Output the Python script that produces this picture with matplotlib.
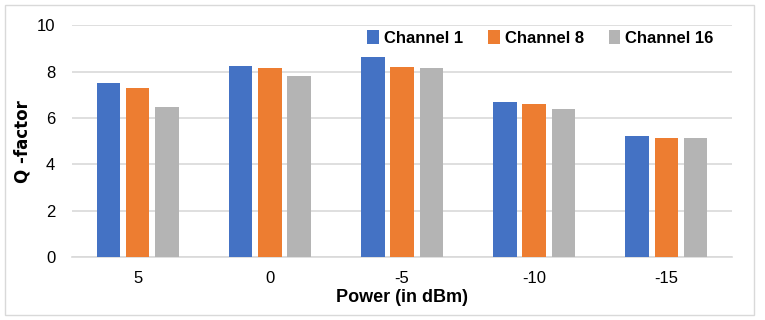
import numpy as np
import matplotlib
matplotlib.use("Agg")
import matplotlib.pyplot as plt
from matplotlib.patches import Rectangle

# data
powers = ['5', '0', '-5', '-10', '-15']
channel_1 = [7.50, 8.24, 8.63, 6.68, 5.24]
channel_8 = [7.28, 8.14, 8.22, 6.59, 5.14]
channel_16 = [6.49, 7.81, 8.16, 6.37, 5.12]

series = [('Channel 1', channel_1, '#4472C4'),
          ('Channel 8', channel_8, '#ED7D31'),
          ('Channel 16', channel_16, '#B4B4B4')]

plt.rcParams['font.family'] = ['Liberation Sans Narrow', 'Liberation Sans', 'DejaVu Sans']

fig = plt.figure(figsize=(7.65, 3.2), dpi=100)
ax = fig.add_axes([0.094, 0.197, 0.863, 0.724])

x = np.arange(len(powers))
width = 0.175
step = 0.22
for i, (name, vals, col) in enumerate(series):
    ax.bar(x + (i - 1) * step, vals, width, color=col, label=name, zorder=3)

ax.set_xlim(-0.5, 4.5)
ax.set_ylim(0, 10)
ax.set_yticks([0, 2, 4, 6, 8, 10])
ax.set_xticks(x)
ax.set_xticklabels(powers)
ax.yaxis.grid(True, color='#d9d9d9', linewidth=1.2, zorder=0)
for s in ['top', 'right', 'left']:
    ax.spines[s].set_visible(False)
ax.spines['bottom'].set_color('#d9d9d9')
ax.spines['bottom'].set_linewidth(1.2)
ax.tick_params(axis='both', length=0, labelsize=12, colors='black')
ax.tick_params(axis='x', pad=10)
ax.tick_params(axis='y', pad=12)

ax.set_ylabel('Q -factor', fontsize=12, fontweight='bold', family='DejaVu Sans')
ax.set_xlabel('Power (in dBm)', fontsize=13, fontweight='bold', labelpad=2)

ax.legend(loc='upper right', bbox_to_anchor=(0.995, 1.045), ncol=3, frameon=False,
          prop={'weight': 'bold', 'size': 12},
          handlelength=0.7, handleheight=0.9, handletextpad=0.3, columnspacing=1.5)

# light border around the whole figure
fig.patches.append(Rectangle((0.006, 0.015), 0.98, 0.97, transform=fig.transFigure,
                             fill=False, edgecolor='#d9d9d9', linewidth=1.0))

fig.savefig('out.png', dpi=100)
